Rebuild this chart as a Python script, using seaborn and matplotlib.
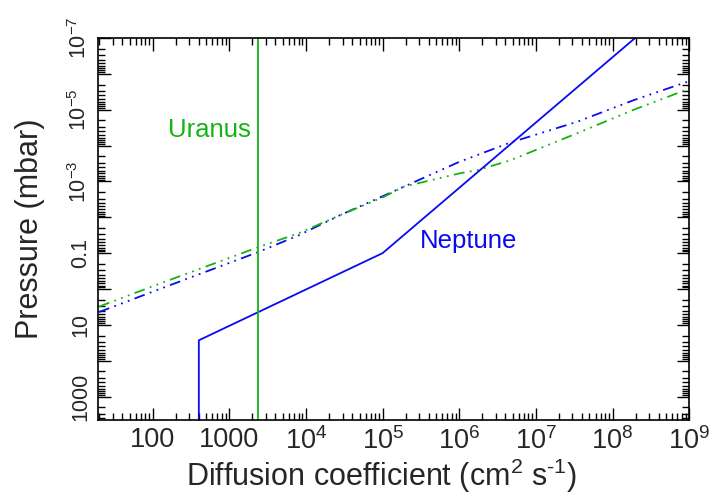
import numpy as np
import pandas as pd
import matplotlib
matplotlib.use("Agg")
import matplotlib.pyplot as plt
import matplotlib.ticker as mticker
import seaborn as sns

# Eddy diffusion profiles (K in cm2 s-1, pressure in mbar)
K_grid = [20, 100, 2400, 8000, 2.8e4, 1e5, 1.9e5, 1e6, 1.7e6, 4.6e6, 3.4e7, 1.9e8, 1e9]
P_nep_dots = [4.4, 1.19, 0.093, 0.032, 8.7e-3, 2.6e-3, 1.4e-3, 2.85e-4, 1.86e-4, 8.3e-5, 2.2e-5, 5.4e-6, 1.6e-6]
P_ura_dots = [3.1, 0.84, 0.068, 0.028, 8.7e-3, 2.8e-3, 1.4e-3, 6.0e-4, 4.9e-4, 2.6e-4, 4.6e-5, 1.0e-5, 2.6e-6]

# Neptune piecewise profile (solid)
K_nep = [400, 400, 1e5, 1e9]
P_nep = [1e4, 27, 0.1, 5.2e-9]

# Uranus constant K (solid vertical)
K_uranus = 2400

x_ticks = [100, 1000, 1e4, 1e5, 1e6, 1e7, 1e8, 1e9]
x_ticklabels = ["100", "1000", "$10^{4}$", "$10^{5}$", "$10^{6}$", "$10^{7}$", "$10^{8}$", "$10^{9}$"]
y_ticks = [1e3, 1e1, 1e-1, 1e-3, 1e-5, 1e-7]
y_ticklabels = ["1000", "10", "0.1", "$10^{-3}$", "$10^{-5}$", "$10^{-7}$"]

blue = "#0a0af0"
green = "#14b414"

sns.set_style("ticks")
plt.rcParams["font.family"] = ["Liberation Sans", "DejaVu Sans"]
plt.rcParams["mathtext.fontset"] = "custom"
plt.rcParams["mathtext.rm"] = "Liberation Sans"
plt.rcParams["mathtext.it"] = "Liberation Sans"
plt.rcParams["mathtext.default"] = "regular"

fig = plt.figure(figsize=(7.12, 5.04), dpi=100)
ax = fig.add_axes([0.138, 0.1667, 0.830, 0.758])

dots = (0, (6, 3, 1, 3, 1, 3, 1, 3))
df_n = pd.DataFrame({"K": K_grid, "P": P_nep_dots})
df_u = pd.DataFrame({"K": K_grid, "P": P_ura_dots})
sns.lineplot(data=df_n, x="K", y="P", ax=ax, color=blue, lw=1.3, linestyle=dots,
             sort=False, estimator=None)
sns.lineplot(data=df_u, x="K", y="P", ax=ax, color=green, lw=1.3, linestyle=dots,
             sort=False, estimator=None)
sns.lineplot(x=K_nep, y=P_nep, ax=ax, color=blue, lw=1.3, sort=False, estimator=None)
ax.axvline(K_uranus, color=green, lw=1.3)

ax.set_xscale("log")
ax.set_yscale("log")
ax.set_xlim(19.5, 1e9)
ax.set_ylim(4500, 1e-7)

ax.xaxis.set_major_locator(mticker.FixedLocator(x_ticks))
ax.xaxis.set_major_formatter(mticker.FixedFormatter(x_ticklabels))
ax.xaxis.set_minor_locator(mticker.LogLocator(base=10, subs=np.arange(2, 10), numticks=30))
ax.xaxis.set_minor_formatter(mticker.NullFormatter())

ax.yaxis.set_major_locator(mticker.LogLocator(base=10, subs=[1.0], numticks=30))
ax.yaxis.set_minor_locator(mticker.LogLocator(base=10, subs=np.arange(2, 10), numticks=30))
ax.yaxis.set_minor_formatter(mticker.NullFormatter())
lab = dict(zip([round(np.log10(v)) for v in y_ticks], y_ticklabels))
ax.yaxis.set_major_formatter(mticker.FuncFormatter(
    lambda v, p: lab.get(int(round(np.log10(v))), "")))

ax.tick_params(which="both", direction="in", top=True, right=True, color="black", width=1.0)
ax.tick_params(which="major", length=9)
ax.tick_params(which="minor", length=5)
ax.tick_params(axis="x", labelsize=19.5, pad=5)
ax.tick_params(axis="y", labelsize=15.5, pad=5, labelrotation=90)
for t in ax.get_yticklabels():
    t.set_va("center")

for s in ax.spines.values():
    s.set_linewidth(1.2)
    s.set_color("black")

ax.set_xlabel("Diffusion coefficient (cm$^{2}$ s$^{\\text{-1}}$)", fontsize=22)
ax.set_ylabel("Pressure (mbar)", fontsize=22)
ax.xaxis.set_label_coords(0.48, -0.095)
ax.yaxis.set_label_coords(-0.09, 0.5)

ax.text(0.2585, 0.759, "Uranus", color=green, fontsize=18.5, ha="right", va="center",
        transform=ax.transAxes)
ax.text(0.5446, 0.4686, "Neptune", color=blue, fontsize=18.5, ha="left", va="center",
        transform=ax.transAxes)

fig.savefig("out.png", dpi=100)
